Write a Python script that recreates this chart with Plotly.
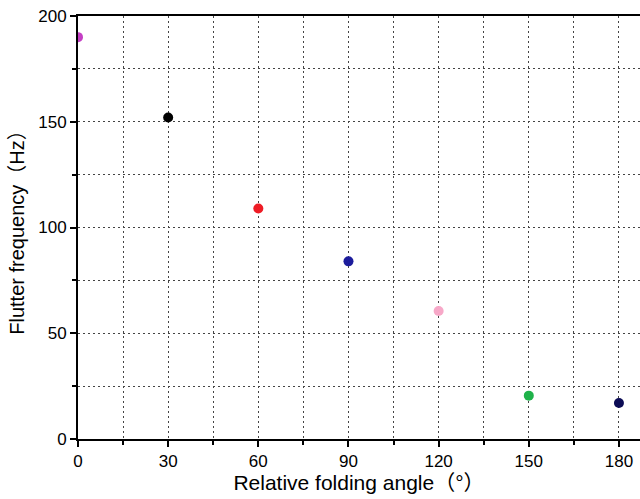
import plotly.graph_objects as go

angles = [0, 30, 60, 90, 120, 150, 180]
freqs = [190, 152, 109, 84, 60.5, 20.5, 17]
colors = ["#c43fc4", "#000000", "#ee1c25", "#1c1c9c", "#f7a8c8", "#1fb24a", "#0c0c55"]

fig = go.Figure()
fig.add_trace(go.Scatter(
    x=angles, y=freqs, mode="markers",
    marker=dict(size=10, color=colors, line=dict(width=0)),
    cliponaxis=True, showlegend=False,
))

fam = "Liberation Sans, Arial, Noto Sans CJK SC, sans-serif"
grid = dict(gridcolor="#444444", griddash="2px,3px", gridwidth=1)
fig.update_layout(
    width=640, height=499,
    margin=dict(l=78, r=0, t=16, b=60),
    paper_bgcolor="white", plot_bgcolor="white",
    font=dict(family=fam, color="#000000"),
    xaxis=dict(
        range=[0, 187], tickvals=[0, 30, 60, 90, 120, 150, 180],
        showgrid=True, **grid,
        minor=dict(dtick=15, tick0=0, showgrid=True, **grid,
                   ticks="outside", ticklen=4, tickcolor="#000000", tickwidth=2),
        showline=True, linecolor="#000000", linewidth=2, mirror=True,
        ticks="outside", ticklen=6, tickwidth=2, tickcolor="#000000",
        tickfont=dict(size=17), zeroline=False,
        title=dict(text="Relative folding angle（°）", font=dict(size=21), standoff=4),
    ),
    yaxis=dict(
        range=[0, 200], tickvals=[0, 50, 100, 150, 200],
        showgrid=True, **grid,
        minor=dict(dtick=25, tick0=0, showgrid=True, **grid,
                   ticks="outside", ticklen=4, tickcolor="#000000", tickwidth=2),
        showline=True, linecolor="#000000", linewidth=2,
        ticks="outside", ticklen=6, tickwidth=2, tickcolor="#000000",
        tickfont=dict(size=17), zeroline=False,
        title=dict(text="Flutter frequency（Hz）", font=dict(size=20), standoff=8),
    ),
)
fig.write_html("out.html")
